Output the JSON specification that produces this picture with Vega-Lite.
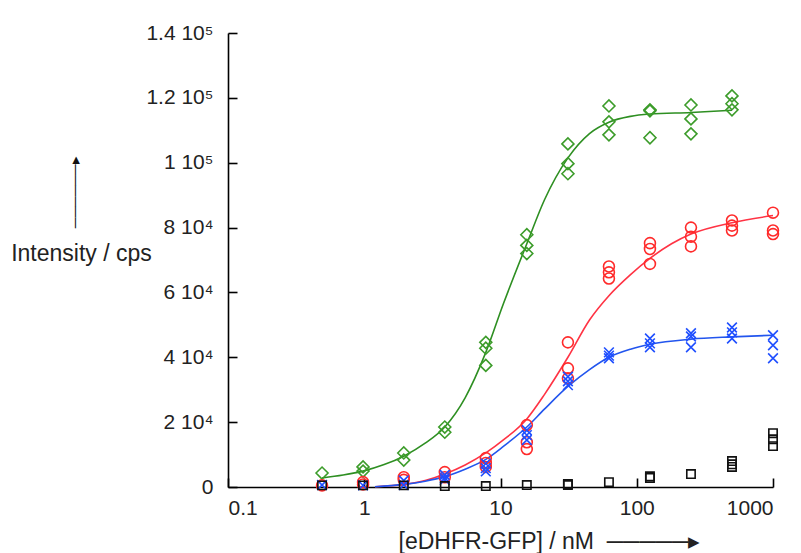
{
  "$schema": "https://vega.github.io/schema/vega-lite/v6.json",
  "width": 545,
  "height": 454,
  "autosize": "none",
  "padding": {"left": 228, "top": 33, "right": 28, "bottom": 66},
  "background": "white",
  "title": {
    "text": "──────▸",
    "orient": "top",
    "anchor": "start",
    "frame": "group",
    "angle": -90,
    "align": "left",
    "baseline": "middle",
    "offset": 0,
    "dx": -278,
    "dy": -153,
    "font": "Liberation Sans",
    "fontSize": 15,
    "fontWeight": "normal",
    "color": "#111111"
  },
  "datasets": {
    "pts": [
      {"series": "green", "conc": 0.49, "intensity": 4300},
      {"series": "green", "conc": 0.98, "intensity": 6200},
      {"series": "green", "conc": 0.98, "intensity": 4900},
      {"series": "green", "conc": 1.95, "intensity": 10500},
      {"series": "green", "conc": 1.95, "intensity": 8300},
      {"series": "green", "conc": 3.9, "intensity": 18500},
      {"series": "green", "conc": 3.9, "intensity": 16900},
      {"series": "green", "conc": 7.8, "intensity": 44600},
      {"series": "green", "conc": 7.8, "intensity": 42800},
      {"series": "green", "conc": 7.8, "intensity": 37500},
      {"series": "green", "conc": 15.6, "intensity": 77800},
      {"series": "green", "conc": 15.6, "intensity": 74500},
      {"series": "green", "conc": 15.6, "intensity": 72000},
      {"series": "green", "conc": 31.25, "intensity": 105800},
      {"series": "green", "conc": 31.25, "intensity": 99700},
      {"series": "green", "conc": 31.25, "intensity": 96600},
      {"series": "green", "conc": 62.5, "intensity": 117500},
      {"series": "green", "conc": 62.5, "intensity": 112600},
      {"series": "green", "conc": 62.5, "intensity": 108600},
      {"series": "green", "conc": 125, "intensity": 116300},
      {"series": "green", "conc": 125, "intensity": 116000},
      {"series": "green", "conc": 125, "intensity": 107700},
      {"series": "green", "conc": 250, "intensity": 117800},
      {"series": "green", "conc": 250, "intensity": 113500},
      {"series": "green", "conc": 250, "intensity": 108900},
      {"series": "green", "conc": 500, "intensity": 120600},
      {"series": "green", "conc": 500, "intensity": 118200},
      {"series": "green", "conc": 500, "intensity": 116300},
      {"series": "red", "conc": 0.49, "intensity": 500},
      {"series": "red", "conc": 0.98, "intensity": 1500},
      {"series": "red", "conc": 0.98, "intensity": 800},
      {"series": "red", "conc": 1.95, "intensity": 3000},
      {"series": "red", "conc": 1.95, "intensity": 2200},
      {"series": "red", "conc": 3.9, "intensity": 4600},
      {"series": "red", "conc": 3.9, "intensity": 3000},
      {"series": "red", "conc": 7.8, "intensity": 8900},
      {"series": "red", "conc": 7.8, "intensity": 7400},
      {"series": "red", "conc": 7.8, "intensity": 6200},
      {"series": "red", "conc": 15.6, "intensity": 19100},
      {"series": "red", "conc": 15.6, "intensity": 13800},
      {"series": "red", "conc": 15.6, "intensity": 11700},
      {"series": "red", "conc": 31.25, "intensity": 44600},
      {"series": "red", "conc": 31.25, "intensity": 36600},
      {"series": "red", "conc": 31.25, "intensity": 33500},
      {"series": "red", "conc": 62.5, "intensity": 68000},
      {"series": "red", "conc": 62.5, "intensity": 66200},
      {"series": "red", "conc": 62.5, "intensity": 64300},
      {"series": "red", "conc": 125, "intensity": 75200},
      {"series": "red", "conc": 125, "intensity": 73400},
      {"series": "red", "conc": 125, "intensity": 68800},
      {"series": "red", "conc": 250, "intensity": 80000},
      {"series": "red", "conc": 250, "intensity": 77200},
      {"series": "red", "conc": 250, "intensity": 74200},
      {"series": "red", "conc": 500, "intensity": 82200},
      {"series": "red", "conc": 500, "intensity": 80600},
      {"series": "red", "conc": 500, "intensity": 79100},
      {"series": "red", "conc": 1000, "intensity": 84600},
      {"series": "red", "conc": 1000, "intensity": 79100},
      {"series": "red", "conc": 1000, "intensity": 78000},
      {"series": "blue", "conc": 0.49, "intensity": 600},
      {"series": "blue", "conc": 0.98, "intensity": 500},
      {"series": "blue", "conc": 1.95, "intensity": 2000},
      {"series": "blue", "conc": 1.95, "intensity": 600},
      {"series": "blue", "conc": 3.9, "intensity": 3700},
      {"series": "blue", "conc": 3.9, "intensity": 2800},
      {"series": "blue", "conc": 3.9, "intensity": 2200},
      {"series": "blue", "conc": 7.8, "intensity": 7200},
      {"series": "blue", "conc": 7.8, "intensity": 5800},
      {"series": "blue", "conc": 7.8, "intensity": 4800},
      {"series": "blue", "conc": 15.6, "intensity": 17500},
      {"series": "blue", "conc": 15.6, "intensity": 16000},
      {"series": "blue", "conc": 15.6, "intensity": 14500},
      {"series": "blue", "conc": 31.25, "intensity": 34000},
      {"series": "blue", "conc": 31.25, "intensity": 32600},
      {"series": "blue", "conc": 31.25, "intensity": 31400},
      {"series": "blue", "conc": 62.5, "intensity": 41500},
      {"series": "blue", "conc": 62.5, "intensity": 40500},
      {"series": "blue", "conc": 62.5, "intensity": 39700},
      {"series": "blue", "conc": 125, "intensity": 45800},
      {"series": "blue", "conc": 125, "intensity": 44300},
      {"series": "blue", "conc": 125, "intensity": 43100},
      {"series": "blue", "conc": 250, "intensity": 47400},
      {"series": "blue", "conc": 250, "intensity": 46400},
      {"series": "blue", "conc": 250, "intensity": 43100},
      {"series": "blue", "conc": 500, "intensity": 49200},
      {"series": "blue", "conc": 500, "intensity": 47700},
      {"series": "blue", "conc": 500, "intensity": 45800},
      {"series": "blue", "conc": 1000, "intensity": 46800},
      {"series": "blue", "conc": 1000, "intensity": 43700},
      {"series": "blue", "conc": 1000, "intensity": 39700},
      {"series": "black", "conc": 0.49, "intensity": 500},
      {"series": "black", "conc": 0.98, "intensity": 500},
      {"series": "black", "conc": 1.95, "intensity": 500},
      {"series": "black", "conc": 3.9, "intensity": 300},
      {"series": "black", "conc": 7.8, "intensity": 300},
      {"series": "black", "conc": 15.6, "intensity": 600},
      {"series": "black", "conc": 31.25, "intensity": 600},
      {"series": "black", "conc": 31.25, "intensity": 900},
      {"series": "black", "conc": 62.5, "intensity": 1500},
      {"series": "black", "conc": 125, "intensity": 2800},
      {"series": "black", "conc": 125, "intensity": 3300},
      {"series": "black", "conc": 250, "intensity": 4000},
      {"series": "black", "conc": 500, "intensity": 8000},
      {"series": "black", "conc": 500, "intensity": 7000},
      {"series": "black", "conc": 500, "intensity": 6200},
      {"series": "black", "conc": 1000, "intensity": 16600},
      {"series": "black", "conc": 1000, "intensity": 14700},
      {"series": "black", "conc": 1000, "intensity": 12600}
    ],
    "fit": [
      {"series": "green", "conc": 0.49, "intensity": 2800},
      {"series": "green", "conc": 0.7, "intensity": 3700},
      {"series": "green", "conc": 0.98, "intensity": 4900},
      {"series": "green", "conc": 1.4, "intensity": 6900},
      {"series": "green", "conc": 1.95, "intensity": 9500},
      {"series": "green", "conc": 2.8, "intensity": 13500},
      {"series": "green", "conc": 3.9, "intensity": 18500},
      {"series": "green", "conc": 5.5, "intensity": 27500},
      {"series": "green", "conc": 7.8, "intensity": 41500},
      {"series": "green", "conc": 10.5, "intensity": 56500},
      {"series": "green", "conc": 15.6, "intensity": 75000},
      {"series": "green", "conc": 21, "intensity": 88500},
      {"series": "green", "conc": 31.25, "intensity": 101500},
      {"series": "green", "conc": 45, "intensity": 109000},
      {"series": "green", "conc": 62.5, "intensity": 112500},
      {"series": "green", "conc": 90, "intensity": 114300},
      {"series": "green", "conc": 125, "intensity": 115000},
      {"series": "green", "conc": 250, "intensity": 115500},
      {"series": "green", "conc": 500, "intensity": 116200},
      {"series": "red", "conc": 1.2, "intensity": 100},
      {"series": "red", "conc": 1.95, "intensity": 800},
      {"series": "red", "conc": 2.8, "intensity": 2000},
      {"series": "red", "conc": 3.9, "intensity": 4000},
      {"series": "red", "conc": 5.5, "intensity": 6800},
      {"series": "red", "conc": 7.8, "intensity": 10500},
      {"series": "red", "conc": 10.5, "intensity": 14500},
      {"series": "red", "conc": 15.6, "intensity": 21000},
      {"series": "red", "conc": 21, "intensity": 28500},
      {"series": "red", "conc": 31.25, "intensity": 40000},
      {"series": "red", "conc": 45, "intensity": 51500},
      {"series": "red", "conc": 62.5, "intensity": 59000},
      {"series": "red", "conc": 90, "intensity": 65500},
      {"series": "red", "conc": 125, "intensity": 70500},
      {"series": "red", "conc": 180, "intensity": 75000},
      {"series": "red", "conc": 250, "intensity": 78000},
      {"series": "red", "conc": 500, "intensity": 81500},
      {"series": "red", "conc": 1000, "intensity": 83700},
      {"series": "blue", "conc": 1.2, "intensity": 100},
      {"series": "blue", "conc": 1.95, "intensity": 800},
      {"series": "blue", "conc": 2.8, "intensity": 1800},
      {"series": "blue", "conc": 3.9, "intensity": 3200},
      {"series": "blue", "conc": 5.5, "intensity": 5500},
      {"series": "blue", "conc": 7.8, "intensity": 8500},
      {"series": "blue", "conc": 10.5, "intensity": 12500},
      {"series": "blue", "conc": 15.6, "intensity": 18500},
      {"series": "blue", "conc": 21, "intensity": 24000},
      {"series": "blue", "conc": 31.25, "intensity": 31000},
      {"series": "blue", "conc": 45, "intensity": 36200},
      {"series": "blue", "conc": 62.5, "intensity": 40000},
      {"series": "blue", "conc": 90, "intensity": 42500},
      {"series": "blue", "conc": 125, "intensity": 44000},
      {"series": "blue", "conc": 250, "intensity": 45600},
      {"series": "blue", "conc": 500, "intensity": 46300},
      {"series": "blue", "conc": 1000, "intensity": 46800}
    ]
  },
  "encoding": {
    "x": {
      "field": "conc",
      "type": "quantitative",
      "scale": {"type": "log", "domain": [0.1, 1000], "nice": false},
      "axis": {
        "values": [0.1, 1, 10, 100, 1000],
        "format": "~g",
        "grid": false,
        "tickSize": -9,
        "labelPadding": 19,
        "title": "[eDHFR-GFP] / nM\u00a0 ─────▸",
        "titleFontSize": 23,
        "titleAlign": "left",
        "titleAnchor": "start",
        "titleX": 170,
        "titleY": 61,
        "titleBaseline": "alphabetic"
      }
    },
    "y": {
      "field": "intensity",
      "type": "quantitative",
      "scale": {"domain": [0, 140000], "nice": false},
      "axis": {
        "values": [0, 20000, 40000, 60000, 80000, 100000, 120000, 140000],
        "labelExpr": "datum.value == 0 ? '0' : datum.value >= 100000 ? format(datum.value / 100000, '~g') + ' 10⁵' : format(datum.value / 10000, '~g') + ' 10⁴'",
        "grid": false,
        "tickSize": -9,
        "labelPadding": 24,
        "title": "Intensity / cps",
        "titleFontSize": 23,
        "titleAngle": 0,
        "titleAlign": "center",
        "titleBaseline": "alphabetic",
        "titleX": -147,
        "titleY": 227
      }
    }
  },
  "layer": [
    {
      "data": {"name": "fit"},
      "mark": {"type": "line", "interpolate": "monotone", "strokeWidth": 1.6},
      "encoding": {
        "color": {
          "field": "series",
          "type": "nominal",
          "scale": {"domain": ["green", "red", "blue"], "range": ["#2e8f22", "#ff3344", "#2255ee"]},
          "legend": null
        }
      }
    },
    {
      "data": {"name": "pts"},
      "mark": {"type": "point", "filled": false, "strokeWidth": 1.6, "opacity": 1},
      "encoding": {
        "color": {
          "field": "series",
          "type": "nominal",
          "scale": {"domain": ["green", "red", "blue", "black"], "range": ["#3c9c2a", "#ff2a2a", "#1f4fff", "#111111"]},
          "legend": null
        },
        "shape": {
          "field": "series",
          "type": "nominal",
          "scale": {"domain": ["green", "red", "blue", "black"], "range": ["diamond", "circle", "M-1,-1L1,1M1,-1L-1,1", "square"]},
          "legend": null
        },
        "size": {
          "field": "series",
          "type": "nominal",
          "scale": {"domain": ["green", "red", "blue", "black"], "range": [144, 70, 100, 81]},
          "legend": null
        }
      }
    }
  ],
  "resolve": {"scale": {"color": "independent"}},
  "config": {
    "view": {"stroke": null},
    "font": "Liberation Sans",
    "axis": {
      "domainColor": "#000000",
      "domainWidth": 1.6,
      "tickColor": "#000000",
      "tickWidth": 1.6,
      "labelFont": "Liberation Sans",
      "labelFontSize": 21,
      "labelColor": "#222222",
      "titleFont": "Liberation Sans",
      "titleFontWeight": "normal",
      "titleColor": "#222222"
    }
  }
}
